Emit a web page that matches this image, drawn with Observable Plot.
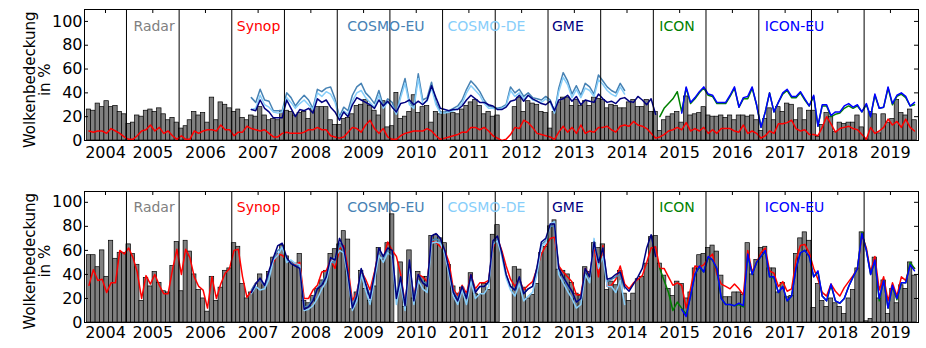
<!DOCTYPE html>
<html><head><meta charset="utf-8">
<script src="https://cdn.jsdelivr.net/npm/d3@7"></script>
<script src="https://cdn.jsdelivr.net/npm/@observablehq/plot@0.6"></script>
<style>body{margin:0;background:#fff}#c svg{display:block}</style>
</head><body><div id="c"></div><script>
// ---------- data ----------
const seriesNames = ["Radar", "Synop", "COSMO-EU", "COSMO-DE", "GME", "ICON", "ICON-EU"];
const yTicks = [0, 20, 40, 60, 80, 100];
const yearLabels = d3.range(2004, 2020);
const startRadar = "2004-04", startSynop = "2004-04", startCosmo = "2007-05", startGme = "2007-05", startIcon = "2015-02", startIconEu = "2015-07";

const radarTop = [
 26,25,31,28,33,28,29,24,22,
 14,15,21,20,25,26,24,27,22,17,19,15,
 10,12,17,24,21,23,15,36,17,32,30,27,
 24,26,19,17,21,20,28,21,17,18,17,25,
 25,24,21,23,24,18,27,28,28,28,17,13,
 13,18,19,22,29,30,34,29,25,21,33,11,
 12,40,18,20,24,38,23,28,29,15,24,22,
 23,24,23,22,26,29,32,34,29,22,24,20,
 21,null,null,null,28,36,24,33,31,30,24,23,
 10,24,32,36,36,29,34,29,33,29,36,35,
 34,27,30,29,27,27,32,34,28,28,34,24,
 24,8,17,20,22,24,15,37,21,22,23,28,
 21,20,20,21,19,21,17,21,21,20,21,17,
 8,18,27,17,28,24,31,30,17,27,17,25,
 25,3,13,23,20,7,15,14,15,15,21,11,
 1,24,22,6,22,15,18,34,23,21,26,17];
const synopTop = [
 8,7,8,8,6,10,8,6,3,
 1,1,4,8,9,13,8,11,6,8,4,1,
 4,1,1,8,6,8,9,9,8,13,9,9,
 4,7,7,12,10,9,8,9,6,3,3,6,
 7,6,6,6,7,9,9,11,9,9,4,3,
 2,3,7,11,10,7,13,17,10,6,10,3,
 1,1,4,6,7,8,8,8,10,8,4,1,
 2,3,4,5,7,7,11,11,9,11,8,4,
 2,0,1,5,11,10,17,15,11,6,5,4,
 3,1,7,12,7,11,6,13,6,8,7,11,
 11,12,9,7,12,13,12,16,13,12,10,6,
 2,3,5,8,9,11,9,15,8,10,8,11,
 6,9,6,10,10,10,8,7,13,6,8,6,
 2,4,8,6,14,14,15,17,10,8,9,5,
 5,4,11,20,14,7,10,11,12,10,9,5,
 1,11,6,8,11,18,13,16,11,18,11,8];
const cosmoEuTop = [
 36,32,43,34,33,25,25,25,
 40,36,29,34,38,34,27,43,41,44,45,35,
 20,28,25,38,45,48,40,36,31,42,29,35,
 32,23,39,52,32,29,56,34,36,49,32,24,
 24,25,27,29,34,43,50,46,41,34,29,28,
 27,28,30,45,40,43,37,40,36,35,34,37,
 34,24,44,57,50,39,46,38,48,45,39,55,
 50,45,42,40,48,42];
const cosmoDeTop = [
 26,27,38,30,28,24,23,24,
 36,32,27,31,34,30,26,40,37,41,39,32,
 18,25,22,33,40,42,36,32,28,38,27,32,
 29,22,36,48,30,27,52,31,33,44,30,23,
 23,24,25,27,31,40,46,42,38,31,27,27,
 26,27,29,42,37,40,35,38,34,33,32,35,
 32,23,41,53,47,36,43,36,44,42,37,51,
 47,42,39,37,45,39];
const gmeTop = [
 26,25,34,27,24,19,19,19,
 34,27,20,26,25,27,23,35,32,34,28,24,
 17,24,20,30,36,34,32,30,27,34,29,33,
 28,24,31,32,34,30,33,30,34,46,36,27,
 26,25,26,26,29,34,38,35,32,32,30,29,
 26,26,28,33,34,38,33,38,35,33,31,30,
 33,25,34,35,38,33,37,30,34,33,32,39,
 35,32,33,31,35,36,33,32,37,34,30,35,
 22];
const iconTop = [
 20,27,31,35,41,24,44,31,35,40,44,
 38,37,31,31,31,37,44,28,35,35,44,30,
 11,24,40,24,32,39,42,36,36,40,34,29,
 37,12,29,29,20,22,23,27,29,27,29,24,
 30,20,38,27,28,44,30,37,39,36,29,30];
const iconEuTop = [
 23,45,32,36,41,45,
 39,38,32,32,32,38,45,28,36,37,45,30,
 11,24,40,24,32,40,43,37,37,41,35,29,
 38,12,30,30,21,24,24,29,31,28,30,24,
 31,20,39,27,28,45,31,38,40,37,29,32];

const radarBottom = [
 56,56,46,60,38,68,53,58,58,
 65,57,48,18,37,30,42,33,26,25,47,67,
 26,68,59,40,27,20,9,38,18,29,43,45,
 66,63,32,20,25,29,40,31,42,54,57,64,
 55,50,49,57,18,16,22,28,35,43,57,61,
 65,76,69,11,25,43,28,18,30,62,52,66,
 90,null,50,13,60,20,42,38,38,72,73,70,
 66,48,30,24,29,22,41,24,23,32,27,73,
 81,null,null,null,46,44,29,20,23,32,58,63,
 80,85,44,43,40,33,24,22,46,42,66,62,
 65,27,34,31,43,24,18,24,36,38,49,71,
 72,49,39,28,22,34,32,20,25,45,56,57,
 62,64,59,39,21,21,25,25,23,66,40,52,
 62,63,45,45,25,33,21,22,57,70,75,68,
 12,32,18,13,20,16,13,7,20,27,45,75,
 1,3,54,20,35,7,28,16,31,28,50,39];
const synopBottom = [
 31,44,35,36,25,33,33,60,57,
 62,54,42,20,39,32,40,31,24,24,44,61,
 40,61,54,38,30,27,12,38,20,32,41,45,
 60,61,38,21,26,33,35,30,42,50,57,56,
 52,50,48,50,20,20,27,31,42,43,52,45,
 61,64,45,18,25,43,36,27,42,60,53,67,
 60,55,40,16,45,22,40,38,34,67,67,63,
 60,50,28,22,31,24,40,28,33,33,35,62,
 70,60,47,36,30,36,27,31,34,45,57,64,
 70,71,47,42,38,34,23,23,45,39,64,38,
 64,30,31,36,47,32,28,33,36,39,50,62,
 63,45,45,38,31,33,31,12,28,47,46,48,
 53,57,40,32,30,28,32,28,23,60,42,50,
 58,62,43,41,30,34,26,28,52,64,65,58,
 45,36,25,22,32,26,22,29,34,39,45,73,
 62,42,55,27,38,18,33,22,38,35,48,45];
const cosmoEuBottom = [
 27,33,35,30,40,52,60,62,
 52,50,47,47,13,14,20,29,33,40,50,50,
 66,60,40,14,24,44,33,22,40,60,53,60,
 58,22,38,15,50,20,40,34,32,68,70,67,
 58,43,26,20,30,21,38,26,30,30,33,65,
 70,57,40,30,27,37,24,28,30,45,65,68,
 80,80,45,37,30,25,17,20,44,38,65,52,
 62,34,36,38,40,28];
const cosmoDeBottom = [
 24,30,27,28,36,52,56,63,
 50,52,49,48,10,11,14,20,28,34,50,54,
 60,58,36,10,18,40,27,15,35,56,50,58,
 55,15,33,10,47,15,35,28,25,66,67,66,
 57,40,22,15,27,15,34,20,24,24,30,65,
 68,55,37,27,22,32,18,22,25,40,63,66,
 82,84,40,33,26,20,12,15,40,33,70,45,
 55,30,30,25,35,15];
const gmeBottom = [
 25,32,37,31,43,54,64,66,
 54,49,47,45,11,13,18,28,31,38,54,52,
 70,62,40,12,22,45,32,20,40,62,55,62,
 60,20,38,14,52,18,40,33,30,72,74,70,
 60,44,25,18,30,20,40,25,30,30,34,68,
 72,58,40,30,27,38,24,28,30,46,67,70,
 82,82,45,38,32,26,17,20,45,38,67,50,
 62,36,37,40,42,30,26,32,38,45,62,73,
 55];
const iconBottom = [
 45,35,25,10,17,12,7,22,40,46,42,
 54,52,44,20,15,15,14,15,13,56,40,50,
 55,59,38,37,25,30,18,22,45,58,60,55,
 38,42,22,18,31,18,16,20,30,38,45,75,
 60,40,51,18,35,12,30,19,33,33,50,45];
const iconEuBottom = [
 11,5,22,40,47,42,
 55,52,45,20,15,15,14,16,14,57,40,50,
 55,60,38,38,25,30,18,22,45,58,60,55,
 38,43,22,18,32,18,16,20,30,38,45,74,
 60,40,52,20,35,12,31,20,33,33,48,43];

// ---------- styles ----------
const seriesColors = ["#808080", "#ff0000", "#4682b4", "#87cefa", "#000080", "#008000", "#0000ff"];
const labelDxPx = [7, 5, 10, 5, 4, 6, 6];
const FONT = "DejaVu Sans";

function monthly(start, values) {
  const [y, m] = start.split("-").map(Number);
  return values.map((v, i) => {
    const a = new Date(Date.UTC(y, m - 1 + i, 1));
    const b = new Date(Date.UTC(y, m + i, 1));
    return {start: a, end: b, mid: new Date((+a + +b) / 2), v};
  });
}

const d0 = new Date(Date.UTC(2004, 2, 16));
const d1 = new Date(Date.UTC(2020, 0, 13));
const plotW = 926 - 84 - 8;
const msPerPx = (d1 - d0) / plotW;
const yearStarts = yearLabels.slice(1).map(y => new Date(Date.UTC(y, 0, 1)));
const yearTicks = yearLabels.map(y => {
  const a = Math.max(+d0, Date.UTC(y, 0, 1)), b = Math.min(+d1, Date.UTC(y + 1, 0, 1));
  return {date: new Date((a + b) / 2), label: String(y)};
});
const legend = seriesNames.map((name, i) => ({name, color: seriesColors[i], date: new Date(+yearStarts[2 * i] + labelDxPx[i] * msPerPx)}));

function panel(p) {
  const ymax = p.ymax, pxPerUnit = 131 / ymax;
  const bars = monthly(startRadar, p.radar).filter(d => d.v != null);
  const line = (start, vals, name) => Plot.lineY(monthly(start, vals), {x: "mid", y: "v", stroke: seriesColors[seriesNames.indexOf(name)], strokeWidth: 1.5});
  return Plot.plot({
    width: 926, height: p.height, marginLeft: 84, marginRight: 8, marginTop: p.mt, marginBottom: p.mb,
    style: {fontFamily: FONT, fontSize: "16px", background: "white", color: "black", overflow: "visible"},
    x: {type: "utc", domain: [d0, d1], axis: null},
    y: {domain: [0, ymax], axis: null},
    marks: [
      Plot.rectY(bars, {x1: "start", x2: "end", y: "v", fill: "#808080", stroke: "black", strokeWidth: 0.7}),
      line(startSynop, p.synop, "Synop"),
      line(startCosmo, p.cosmoEu, "COSMO-EU"),
      line(startCosmo, p.cosmoDe, "COSMO-DE"),
      line(startGme, p.gme, "GME"),
      line(startIcon, p.icon, "ICON"),
      line(startIconEu, p.iconEu, "ICON-EU"),
      Plot.ruleX(yearStarts, {stroke: "black", strokeWidth: 1}),
      Plot.frame({stroke: "black", strokeWidth: 1}),
      Plot.ruleY(yTicks, {x1: d0, x2: new Date(+d0 + 4 * msPerPx), stroke: "black"}),
      Plot.ruleY(yTicks, {x1: new Date(+d1 - 4 * msPerPx), x2: d1, stroke: "black"}),
      Plot.ruleX(yearTicks, {x: "date", y1: ymax, y2: ymax - 4 / pxPerUnit, stroke: "black"}),
      Plot.text(yTicks, {x: d0, y: d => d, text: d => String(d), textAnchor: "end", dx: -2, fontSize: 16, fill: "black"}),
      Plot.text(yearTicks, {x: "date", frameAnchor: "bottom", text: "label", dy: p.yearDy, fontSize: 16, fill: "black"}),
      Plot.text(legend, {x: "date", y: 96, text: "name", textAnchor: "start", fontSize: 14, fill: "color"}),
      Plot.text(["Wolkenbedeckung\nin %"], {x: d0, y: 51, text: d => d, rotate: -90, dx: -46.5, fontSize: 15, lineHeight: 1.0, fill: "black"})
    ]
  });
}

const c = document.getElementById("c");
c.append(panel({height: 174, mt: 9, mb: 34, ymax: 110, yearDy: 17.5,
  radar: radarTop, synop: synopTop, cosmoEu: cosmoEuTop, cosmoDe: cosmoDeTop, gme: gmeTop, icon: iconTop, iconEu: iconEuTop}));
c.append(panel({height: 174, mt: 17, mb: 26, ymax: 109, yearDy: 15.5,
  radar: radarBottom, synop: synopBottom, cosmoEu: cosmoEuBottom, cosmoDe: cosmoDeBottom, gme: gmeBottom, icon: iconBottom, iconEu: iconEuBottom}));
</script></body></html>
